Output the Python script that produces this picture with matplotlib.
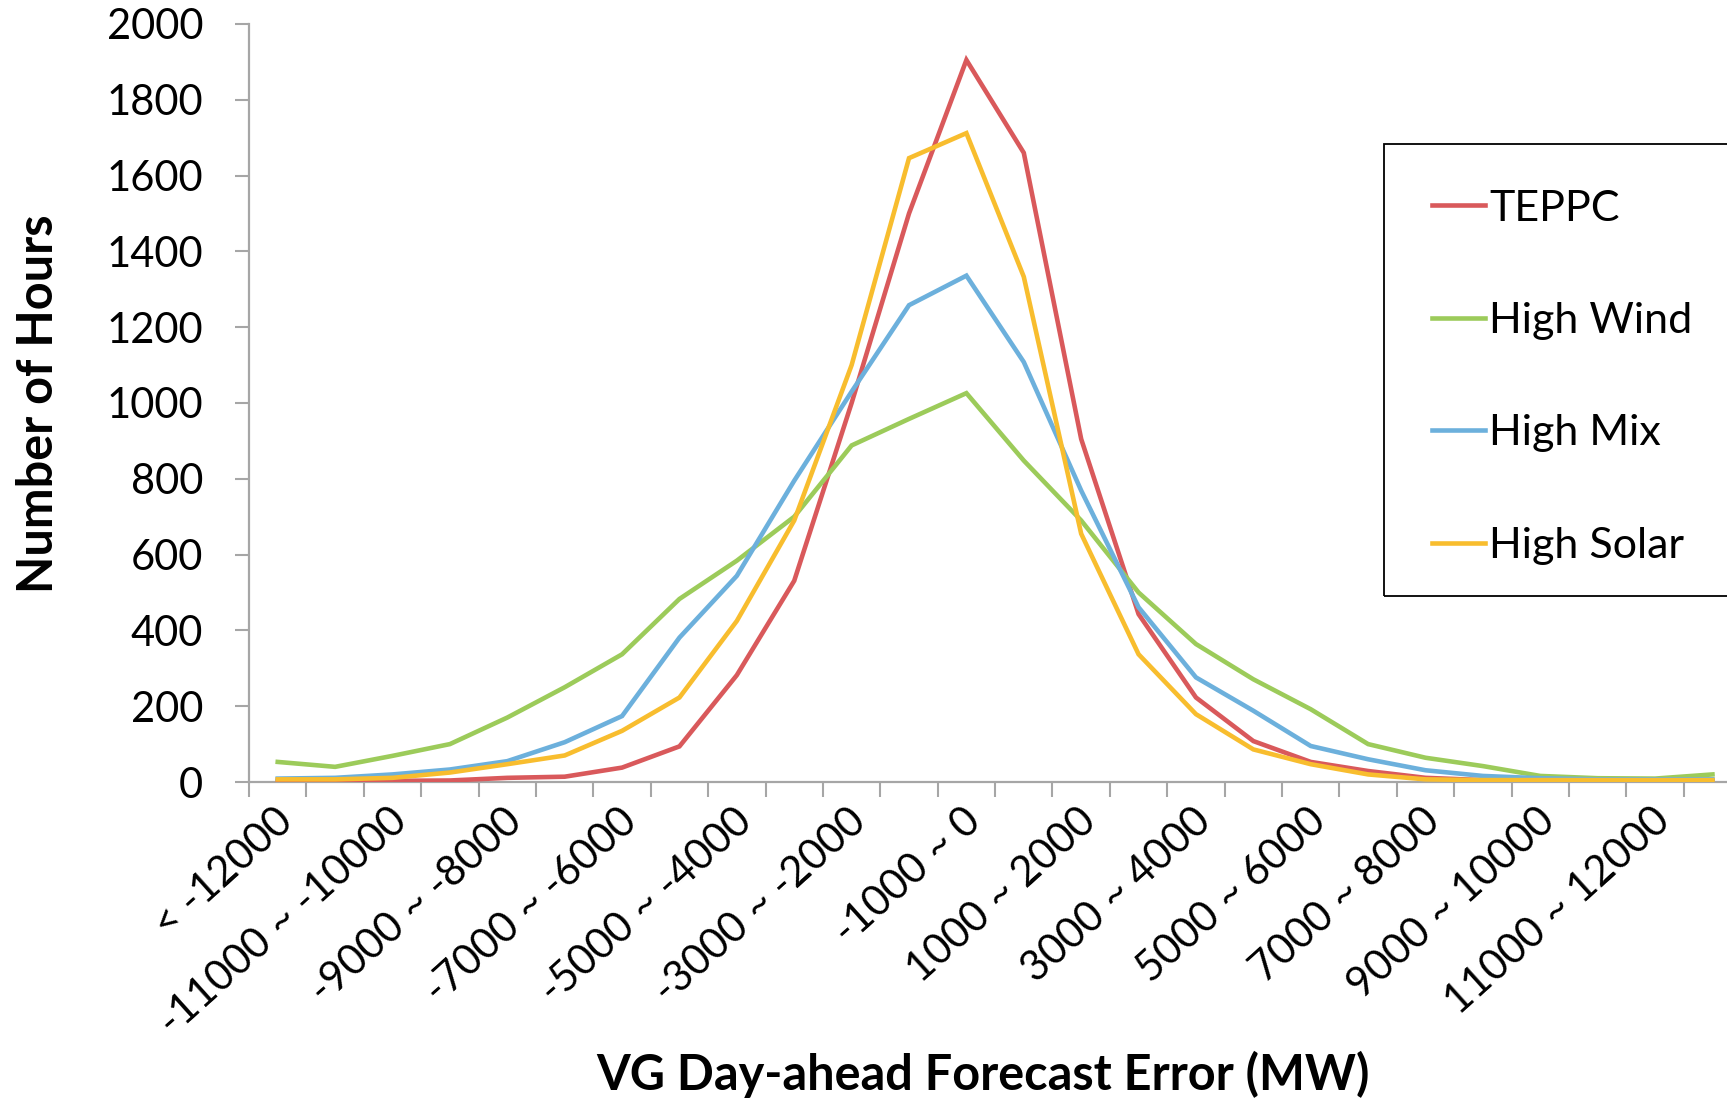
import numpy as np
import matplotlib.pyplot as plt
from matplotlib.patches import Rectangle
from matplotlib.transforms import ScaledTranslation

# error bins (MW)
bins = ["< -12000", "-12000 ~ -11000", "-11000 ~ -10000", "-10000 ~ -9000",
        "-9000 ~ -8000", "-8000 ~ -7000", "-7000 ~ -6000", "-6000 ~ -5000",
        "-5000 ~ -4000", "-4000 ~ -3000", "-3000 ~ -2000", "-2000 ~ -1000",
        "-1000 ~ 0", "0 ~ 1000", "1000 ~ 2000", "2000 ~ 3000",
        "3000 ~ 4000", "4000 ~ 5000", "5000 ~ 6000", "6000 ~ 7000",
        "7000 ~ 8000", "8000 ~ 9000", "9000 ~ 10000", "10000 ~ 11000",
        "11000 ~ 12000", "> 12000"]

teppc = [3, 3, 3, 4, 11, 14, 38, 94, 282, 531, 1000, 1500, 1905,
         1660, 905, 443, 223, 108, 53, 29, 11, 5, 4, 3, 3, 3]
high_wind = [53, 40, 69, 100, 170, 250, 337, 483, 584, 700, 888, 958, 1026,
             848, 690, 500, 364, 271, 192, 100, 64, 42, 16, 10, 9, 20]
high_mix = [9, 11, 20, 33, 55, 105, 174, 381, 544, 795, 1030, 1258, 1336,
            1108, 769, 461, 276, 188, 95, 60, 31, 16, 10, 7, 7, 7]
high_solar = [7, 7, 11, 25, 47, 70, 135, 223, 425, 690, 1100, 1646, 1712,
              1333, 655, 337, 179, 86, 47, 20, 7, 5, 5, 5, 5, 5]

series = [("TEPPC", teppc, "#D9595B"),
          ("High Wind", high_wind, "#9CCB5A"),
          ("High Mix", high_mix, "#6CB0DC"),
          ("High Solar", high_solar, "#F8BD2E")]

plt.rcParams['font.family'] = ['Lato', 'DejaVu Sans']
axis_grey = "#A6A6A6"

fig = plt.figure(figsize=(17.27, 11.05), dpi=100)
ax = fig.add_axes([0.1442, 0.2923, 0.864, 0.686])

x = np.arange(len(bins))
handles = []
for name, vals, col in series:
	h, = ax.plot(x, vals, color=col, lw=3.3, label=name, solid_joinstyle='miter')
	handles.append(h)

ax.set_xlim(-0.5, len(bins) - 0.5)
ax.set_ylim(0, 2000)
ax.set_yticks(np.arange(0, 2001, 200))
ax.tick_params(axis='y', labelsize=30, length=10, width=1.5, color=axis_grey, pad=23)

# labels on every other bin, tick marks at bin edges
ax.set_xticks(x[::2])
ax.set_xticklabels(bins[::2], rotation=42, ha='right', va='center', rotation_mode='anchor')
ax.tick_params(axis='x', which='major', length=0, labelsize=30, pad=24)
shift = ScaledTranslation(0.09, 0, fig.dpi_scale_trans)
for lab in ax.get_xticklabels():
	lab.set_transform(lab.get_transform() + shift)
ax.set_xticks(np.arange(-0.5, len(bins), 1), minor=True)
ax.tick_params(axis='x', which='minor', length=11, width=1.5, color=axis_grey)

for s in ['top', 'right']:
	ax.spines[s].set_visible(False)
for s in ['left', 'bottom']:
	ax.spines[s].set_color(axis_grey)
	ax.spines[s].set_linewidth(1.6)
ax.spines['bottom'].set_zorder(1)

fig.text(0.0223, 0.635, "Number of Hours", fontsize=35, fontweight='bold',
         rotation=90, ha='center', va='center')
fig.text(0.569, 0.028, "VG Day-ahead Forecast Error (MW)", fontsize=35,
         fontweight='bold', ha='center', va='center')

leg = fig.legend(handles=handles, loc='upper left', bbox_to_anchor=(0.829, 0.8285),
                 frameon=False, fontsize=31, labelspacing=1.73, handlelength=1.23,
                 handletextpad=0.1, borderpad=0, borderaxespad=0)
fig.patches.append(Rectangle((0.8015, 0.461), 0.25, 0.409, transform=fig.transFigure,
                             fill=False, edgecolor='black', lw=1.3))

fig.savefig("out.png", dpi=100)
